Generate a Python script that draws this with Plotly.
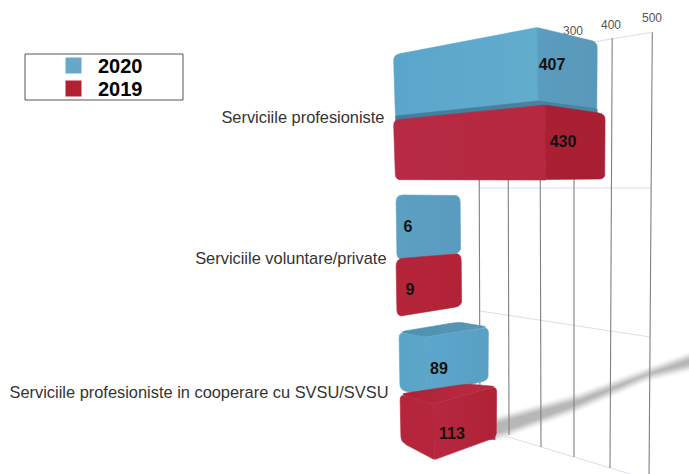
import plotly.graph_objects as go

# ---- data ----
categories = ["Serviciile profesioniste", "Serviciile voluntare/private",
              "Serviciile profesioniste in cooperare cu SVSU/SVSU"]
values_2020 = [407, 6, 89]
values_2019 = [430, 9, 113]
series_names = ["2020", "2019"]
grid_ticks = [0, 100, 200, 300, 400, 500]
axis_tick_labels = [300, 400, 500]

# ---- scale: horizontal axis is in data units, vertical axis in layout units ----
W, H = 689, 474
PX_PER_UNIT = 0.342
ZERO_PX = 458.0
BAR_START = -164


def to_val(px):
    return (px - ZERO_PX) / PX_PER_UNIT


def right_px(v):
    return ZERO_PX + PX_PER_UNIT * v


def rounded(poly, radii):
    """Round polygon corners (pixel space, per-vertex radius); return axis coordinates."""
    xs, ys = [], []
    n = len(poly)

    def toward(a, b, d):
        L = ((b[0] - a[0]) ** 2 + (b[1] - a[1]) ** 2) ** 0.5
        d = min(d, L / 2)
        return a[0] + (b[0] - a[0]) * d / L, a[1] + (b[1] - a[1]) * d / L

    for i in range(n):
        p0, p1, p2 = poly[i - 1], poly[i], poly[(i + 1) % n]
        r = radii[i]
        if r == 0:
            xs.append(to_val(p1[0]))
            ys.append(p1[1])
            continue
        a = toward(p1, p0, r)
        b = toward(p1, p2, r)
        for t in (0, .25, .5, .75, 1):
            x = (1 - t) ** 2 * a[0] + 2 * t * (1 - t) * p1[0] + t ** 2 * b[0]
            y = (1 - t) ** 2 * a[1] + 2 * t * (1 - t) * p1[1] + t ** 2 * b[1]
            xs.append(to_val(x))
            ys.append(y)
    xs.append(xs[0])
    ys.append(ys[0])
    return xs, ys


# ---- face geometry: each function takes the right edge R derived from the value ----
def faces_top_bar(R, y, r=6, rim=0):
    L = 393.5
    D = R - 60
    faces = [
        ([(L, y[0]), (D, y[1]), (D + 1, y[2]), (L + 2, y[3])], "front", [r, 0, 0, r]),
        ([(D, y[1]), (R, y[4]), (R, y[5]), (D + 1, y[2])], "end", [2, r, r, 2]),
    ]
    if rim:
        faces.append(([(L + 2, y[3] - rim), (D + 1, y[2] - rim), (R, y[5] - rim + 1),
                       (R, y[5] + 2), (D + 1, y[2] + 2), (L + 2, y[3] + 2)],
                      "rim", [0, 0, 0, 0, 0, 0]))
    return faces


def faces_flat(R, y, r=7):
    L = 396
    return [([(L, y[0]), (R, y[1]), (R + 1, y[2]), (L + 1, y[3])], "flat", [r, r, r, r])]


def faces_box(R, y, L, d, r=6):
    return [
        ([(L, y[0]), (R - 30, y[6]), (R, y[4]), (L + d, y[1])], "top", [r, r, r, 0]),
        ([(L, y[0]), (L + d, y[1]), (L + d + 2, y[2]), (L + 1, y[3])], "left", [r, 0, 2, r]),
        ([(L + d, y[1]), (R, y[4]), (R, y[5]), (L + d + 2, y[2])], "right", [0, r, r, 2]),
    ]


BLUE = {"front": ("#5aa6cb", "#62accd"), "end": ("#5a9dc0", "#5a98b8"),
        "left": ("#5aa4c8", "#5ca6ca"), "right": ("#5ca6cc", "#5a9fc4"),
        "top": ("#4e90b0", "#5898b6"), "flat": ("#5b9fc2", "#5a9cbf"),
        "rim": ("#3f7e9c", "#4a86a4")}
RED = {"front": ("#b72a44", "#b6283f"), "end": ("#a92035", "#a81e32"),
       "left": ("#b5263c", "#b5263c"), "right": ("#b72840", "#ae2236"),
       "top": ("#ae2238", "#b92c42"), "flat": ("#b52539", "#b32337"),
       "rim": ("#8f1a2c", "#8f1a2c")}

fig = go.Figure()

# data-bound bars (body under the perspective faces)
bar_rows = [[82, 226, 362], [145, 285, 425]]
for vals, rows, colors in zip([values_2020, values_2019], bar_rows, [BLUE, RED]):
    fig.add_trace(go.Bar(x=[v - BAR_START - 3 for v in vals], y=rows, base=BAR_START,
                         orientation="h", width=30, marker_color=colors["front"][0],
                         showlegend=False, hoverinfo="skip"))

# blurred shadow streak
shadow_top = [(495, 420), (580, 396), (647, 371), (689, 356)]
shadow_bot = [(495, 438), (573, 410), (647, 378), (689, 368)]
for grow, op in [(4, .05), (2.5, .07), (1, .10), (-0.5, .12), (-2, .14), (-3.5, .14)]:
    pts = [(x, y - grow) for x, y in shadow_top] + [(x, y + grow) for x, y in reversed(shadow_bot)]
    fig.add_trace(go.Scatter(x=[to_val(p[0]) for p in pts], y=[p[1] for p in pts],
                             mode="lines", fill="toself", line_width=0,
                             fillcolor=f"rgba(110,110,110,{op})",
                             showlegend=False, hoverinfo="skip"))

# perspective wall grid
GX = dict(zip(grid_ticks, [479, 508, 540, 574, 612, 652]))
GB = dict(zip(grid_ticks, [480, 509, 541, 574, 610, 649]))
GTOP = dict(zip(grid_ticks, [70, 62, 53, 43, 38, 32.5]))
GBOT = dict(zip(grid_ticks, [426, 435, 447, 457, 468, 481]))

LILAC = "#dcdcf0"
for p, q in [((479, 188), (652, 188)), ((480, 311), (650, 337)),
             ((593, 42), (654, 32)), ((495, 433), (640, 477))]:
    fig.add_trace(go.Scatter(x=[to_val(p[0]), to_val(q[0])], y=[p[1], q[1]], mode="lines",
                             line=dict(color=LILAC, width=1), showlegend=False, hoverinfo="skip"))
for t in grid_ticks:
    fig.add_trace(go.Scatter(x=[to_val(GX[t] + (GX[t] - GB[t]) * 0.1), to_val(GB[t])],
                             y=[GTOP[t], GBOT[t]], mode="lines",
                             line=dict(color="#808080", width=1.1),
                             showlegend=False, hoverinfo="skip"))

# value axis labels
fig.add_trace(go.Scatter(
    x=[to_val(px) for px in (573, 611, 652)], y=[32, 26, 19], mode="text",
    text=[str(t) for t in axis_tick_labels],
    textfont=dict(family="Liberation Sans", size=12, color="#555555"),
    showlegend=False, hoverinfo="skip"))


def add_faces(faces, palette):
    for pts, kind, radii in faces:
        xs, ys = rounded(pts, radii)
        c0, c1 = palette[kind]
        fig.add_trace(go.Scatter(
            x=xs, y=ys, mode="lines", fill="toself", line=dict(width=0.6, color=c0),
            fillgradient=dict(type="horizontal", colorscale=[[0, c0], [1, c1]]),
            showlegend=False, hoverinfo="skip"))


# draw order: top to bottom with the lower bar overlapping the one above
add_faces(faces_top_bar(right_px(values_2020[0]), [55, 27.5, 104, 119, 42, 111], rim=3), BLUE)
add_faces(faces_top_bar(right_px(values_2019[0]), [120, 105, 180, 180, 114, 179]), RED)
add_faces(faces_flat(right_px(values_2020[1]), [195, 195, 253, 260]), BLUE)
add_faces(faces_flat(right_px(values_2019[1]), [259, 253, 306, 317]), RED)
add_faces(faces_box(right_px(values_2020[2]), [332, 337, 396, 390, 327, 380, 322], 399, 26), BLUE)
add_faces(faces_box(right_px(values_2019[2]), [394, 404, 460, 442, 386, 437, 384], 400, 33), RED)

# value labels
label_x = [552, 408, 439]
label_y = [66, 228, 370]
label_x2 = [563, 410, 452]
label_y2 = [143, 291, 435]
fig.add_trace(go.Scatter(
    x=[to_val(p) for p in label_x + label_x2], y=label_y + label_y2, mode="text",
    text=[str(v) for v in values_2020 + values_2019],
    textfont=dict(family="Liberation Sans", size=16, color="#111111", weight="bold"),
    showlegend=False, hoverinfo="skip"))

# category labels
fig.add_trace(go.Scatter(
    x=[to_val(p) for p in (384.5, 386.5, 388.5)], y=[119, 260, 393.5], mode="text",
    text=categories, textposition="middle left",
    textfont=dict(family="Liberation Sans", size=16.4, color="#333333"),
    showlegend=False, hoverinfo="skip"))

# legend entries (one legend per row so row spacing can match)
for name, color, lg in zip(series_names, ["#66a8c8", "#b3202f"], ["legend", "legend2"]):
    fig.add_trace(go.Scatter(x=[None], y=[None], mode="markers", name=name, legend=lg,
                             marker=dict(symbol="square", size=21, color=color)))

legend_style = dict(xanchor="left", yanchor="middle", bgcolor="rgba(0,0,0,0)", itemwidth=39,
                    font=dict(family="Liberation Sans", size=20, color="black", weight="bold"))

fig.update_layout(
    width=W, height=H, margin=dict(l=0, r=0, t=0, b=0),
    paper_bgcolor="white", plot_bgcolor="white", barmode="overlay",
    xaxis=dict(range=[to_val(0), to_val(W)], visible=False, fixedrange=True),
    yaxis=dict(range=[H, 0], visible=False, fixedrange=True),
    legend=dict(x=49 / W, y=1 - 65.5 / H, **legend_style),
    legend2=dict(x=49 / W, y=1 - 88.5 / H, **legend_style),
    shapes=[dict(type="rect", xref="paper", yref="paper",
                 x0=25 / W, x1=183 / W, y0=1 - 54 / H, y1=1 - 100 / H,
                 line=dict(color="#555555", width=1))],
)
fig.write_html("out.html", config={"displayModeBar": False},
               post_script="document.body.style.margin='0';")
